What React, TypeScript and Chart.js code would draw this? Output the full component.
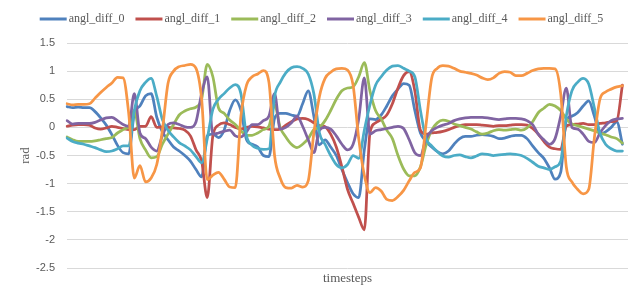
import React, { useEffect, useRef } from 'react';
import { Chart, registerables } from 'chart.js';

Chart.register(...registerables);

const seriesNames = ['angl_diff_0', 'angl_diff_1', 'angl_diff_2', 'angl_diff_3', 'angl_diff_4', 'angl_diff_5'];
const seriesColors = ['#4F81BD', '#C0504D', '#9BBB59', '#8064A2', '#4BACC6', '#F79646'];
const timesteps = Array.from({ length: 101 }, (_, i) => String(i));
const yTicks = [-2.5, -2, -1.5, -1, -0.5, 0, 0.5, 1, 1.5];

const angl_diff_0 = [
  0.37, 0.35, 0.36, 0.35, 0.35, 0.28, 0.17, 0.04, -0.13, -0.32,
  -0.45, -0.47, 0.25, 0.38, 0.56, 0.6, 0.18, -0.08, -0.22, -0.35,
  -0.42, -0.5, -0.6, -0.75, -0.88, -0.15, -0.12, -0.18, -0.05, 0.3,
  0.49, 0.3, -0.22, -0.3, -0.35, -0.5, -0.52, 0.16, 0.25, 0.25,
  0.22, 0.2, 0.42, 0.65, 0.2, -0.31, -0.22, -0.35, -0.5, -0.75,
  -0.98, -1.18, -1.25, -0.4, 0.15, 0.14, 0.22, 0.38, 0.56, 0.68,
  0.78, 0.75, 0.3, -0.1, -0.25, -0.35, -0.43, -0.47, -0.42, -0.3,
  -0.2, -0.16, -0.16, -0.14, -0.13, -0.14, -0.16, -0.2, -0.19, -0.16,
  -0.14, -0.14, -0.2, -0.33, -0.45, -0.55, -0.72, -0.92, -0.8, 0.12,
  0.2, 0.26, 0.38, 0.47, 0.2, -0.12, -0.08, 0.0, 0.1, -0.3,
];
const angl_diff_1 = [
  0.02, 0.04, 0.05, 0.05, 0.04, -0.01, -0.03, -0.01, 0.02, 0.0,
  -0.02, -0.04, -0.04, 0.02, 0.02, 0.19, 0.0, 0.01, 0.0, -0.01,
  -0.02, -0.05, -0.15, -0.4, -0.6, -1.25, -0.15, 0.04, 0.08, 0.05,
  0.0, -0.03, 0.0, 0.02, 0.01, -0.01, -0.03, -0.04, -0.03, 0.04,
  0.1, 0.15, 0.16, 0.14, 0.08, 0.03, 0.01, -0.12, -0.35, -0.7,
  -1.1, -1.35, -1.6, -1.82, -0.1, 0.08, 0.14, 0.22, 0.42, 0.7,
  0.92, 0.99, 0.65, -0.05, -0.12, -0.1, -0.09, -0.07, -0.04, 0.0,
  0.03, 0.05, 0.05, 0.05, 0.04, 0.03, 0.02, 0.03, 0.03, 0.04,
  0.05, 0.05, 0.04, -0.02, -0.12, -0.25, -0.35, -0.38, -0.39, 0.02,
  0.05, 0.06, 0.07, 0.05, 0.05, 0.07, 0.08, 0.1, 0.12, 0.75,
];
const angl_diff_2 = [
  -0.17, -0.22, -0.25, -0.25, -0.25, -0.24, -0.22, -0.2, -0.18, -0.1,
  -0.04, 0.02, 0.3, -0.2, -0.4, -0.54, -0.52, -0.3, -0.12, 0.05,
  0.22, 0.29, 0.33, 0.36, 0.5, 1.12, 0.9, 0.35, 0.25, 0.13,
  0.05, -0.06, -0.14, -0.14, -0.1, -0.04, 0.02, 0.4, 0.0, -0.17,
  -0.3, -0.36, -0.3, -0.2, -0.04, 0.0, 0.12, 0.3, 0.5, 0.65,
  0.7, 0.72, 0.9, 1.15, 0.65, 0.3, 0.15, -0.05, -0.2, -0.5,
  -0.74, -0.86, -0.86, -0.7, -0.32, -0.05, 0.08, 0.13, 0.11, 0.06,
  0.03, 0.0, -0.03, -0.08, -0.12, -0.1, -0.06, -0.04, -0.05, -0.04,
  -0.03, -0.05, -0.01, 0.1, 0.26, 0.34, 0.41, 0.38, 0.3, 0.15,
  0.06, 0.03, 0.0, -0.03, -0.06, -0.1, -0.13, -0.17, -0.2, -0.28,
];
const angl_diff_3 = [
  0.12, 0.06, 0.07, 0.07, 0.07, 0.09, 0.13, 0.17, 0.18, 0.12,
  0.05, 0.02, 0.6, -0.1, -0.2, -0.35, -0.42, -0.15, 0.05, 0.08,
  0.05, 0.01, 0.0, 0.1, 0.6, 0.9, -0.12, -0.1, -0.07, -0.05,
  -0.15, -0.17, -0.08, 0.05, 0.05, 0.12, 0.2, 0.6, -0.03, 0.0,
  0.08, 0.2, 0.02, -0.22, -0.45, -0.05, 0.0, -0.03, -0.15, -0.3,
  -0.4, -0.3, 0.15, 0.88, -0.12, -0.06, -0.04, -0.02, 0.0, 0.02,
  -0.02, -0.22, -0.45, -0.5, -0.2, -0.06, 0.0, 0.04, 0.07, 0.12,
  0.15, 0.17, 0.18, 0.18, 0.18, 0.17, 0.15, 0.14, 0.15, 0.16,
  0.16, 0.15, 0.12, 0.05, -0.12, -0.22, -0.3, -0.2, 0.2, 0.7,
  0.0, -0.03, -0.12, -0.25, -0.27, -0.1, 0.03, 0.12, 0.15, 0.16,
];
const angl_diff_4 = [
  -0.19, -0.25, -0.28, -0.3, -0.33, -0.36, -0.4, -0.43, -0.42, -0.38,
  -0.33, -0.33, 0.3, 0.65, 0.8, 0.87, 0.55, 0.14, -0.05, -0.17,
  -0.27, -0.33, -0.4, -0.52, -0.63, -0.2, 0.32, 0.5, 0.6, 0.7,
  0.76, 0.6, -0.15, -0.32, -0.37, -0.39, -0.38, 0.55, 0.8, 0.97,
  1.06, 1.08, 1.05, 0.95, 0.6, -0.1, -0.3, -0.5, -0.66, -0.72,
  -0.66, -0.5, -0.55, -0.05, 0.4, 0.75, 0.9, 1.02, 1.09, 1.1,
  1.05, 1.0, 0.9, 0.3, -0.2, -0.33, -0.43, -0.51, -0.53, -0.5,
  -0.49, -0.52, -0.54, -0.51, -0.47, -0.48, -0.5, -0.49, -0.48, -0.47,
  -0.48, -0.5, -0.55, -0.62, -0.69, -0.72, -0.75, -0.7, -0.6, 0.2,
  0.65, 0.8, 0.87, 0.77, 0.35, -0.1, -0.3, -0.38, -0.42, -0.42,
];
const angl_diff_5 = [
  0.42, 0.4, 0.41, 0.41, 0.42, 0.52, 0.62, 0.71, 0.79, 0.89,
  0.88, 0.25, -0.9, -0.68, -0.97, -0.9, -0.66, -0.05, 0.78, 1.0,
  1.08, 1.1, 1.12, 1.05, 0.5, -0.93, -0.85, -0.8, -0.92, -1.06,
  -1.07, 0.2, 0.75, 0.9, 0.95, 1.01, 0.8, -0.5, -0.9, -1.07,
  -1.08, -1.03, -1.06, -0.95, -0.1, 0.55, 0.87, 0.98, 1.04, 1.05,
  1.02, 0.75, -0.2, -0.85, -1.16, -1.07, -1.13, -1.28, -1.3, -1.23,
  -1.12, -0.95, -0.8, -0.72, 0.05, 0.87, 1.05, 1.1, 1.09, 1.05,
  1.0, 0.98, 0.96, 0.93, 0.88, 0.85, 0.88, 0.96, 0.99, 0.98,
  0.92, 0.92, 0.96, 1.01, 1.04, 1.05, 1.05, 1.04, 0.6, -0.7,
  -0.97, -1.1, -1.18, -1.1, -0.19, 0.5, 0.63, 0.68, 0.72, 0.74,
];
const seriesValues = [angl_diff_0, angl_diff_1, angl_diff_2, angl_diff_3, angl_diff_4, angl_diff_5];

const TEXT_COLOR = '#595959';

const legendPlugin = {
  id: 'lineLegend',
  afterDraw(chart: any) {
    const ctx = chart.ctx as CanvasRenderingContext2D;
    const sets = chart.data.datasets;
    const lineW = 27;
    const gapText = 2;
    const gapItem = 11;
    ctx.save();
    ctx.font = '12px "Liberation Serif"';
    const widths = sets.map((d: any) => ctx.measureText(d.label).width);
    const total = widths.reduce((a: number, w: number) => a + lineW + gapText + w, 0) + gapItem * (sets.length - 1);
    let x = (chart.width - total) / 2;
    const y = 19;
    sets.forEach((d: any, i: number) => {
      ctx.strokeStyle = d.borderColor;
      ctx.lineWidth = 3;
      ctx.beginPath();
      ctx.moveTo(x, y);
      ctx.lineTo(x + lineW, y);
      ctx.stroke();
      ctx.fillStyle = TEXT_COLOR;
      ctx.textBaseline = 'middle';
      ctx.textAlign = 'left';
      ctx.fillText(d.label, x + lineW + gapText, y);
      x += lineW + gapText + widths[i] + gapItem;
    });
    ctx.restore();
  },
};

export default function App() {
  const ref = useRef<HTMLCanvasElement>(null);
  useEffect(() => {
    const chart = new Chart(ref.current as HTMLCanvasElement, {
      type: 'line',
      data: {
        labels: timesteps,
        datasets: seriesValues.map((vals, i) => ({
          label: seriesNames[i],
          data: vals,
          borderColor: seriesColors[i],
          backgroundColor: seriesColors[i],
          borderWidth: 2.75,
          pointRadius: 0,
          order: 5 - i,
          cubicInterpolationMode: 'monotone' as const,
          borderJoinStyle: 'round' as const,
          borderCapStyle: 'round' as const,
        })),
      },
      options: {
        responsive: false,
        animation: false,
        layout: { padding: { left: 10, right: 15, top: 43, bottom: 0 } },
        plugins: {
          legend: { display: false },
          tooltip: { enabled: false },
        },
        scales: {
          x: {
            type: 'category',
            ticks: { display: false },
            grid: { display: false, drawTicks: false },
            border: { display: false },
            title: {
              display: true,
              text: 'timesteps',
              color: TEXT_COLOR,
              font: { family: 'Liberation Serif', size: 13 },
              padding: { top: 0, bottom: 16 },
            },
            afterFit: (s: any) => {
              s.height = 34;
            },
          },
          y: {
            min: -2.5,
            max: 1.5,
            afterBuildTicks: (s: any) => {
              s.ticks = yTicks.map((v) => ({ value: v }));
            },
            ticks: {
              color: TEXT_COLOR,
              font: { family: 'Liberation Sans', size: 11 },
              padding: 12,
              callback: (v: any) => String(Math.round(Number(v) * 10) / 10),
            },
            grid: { color: '#D9D9D9', drawTicks: false, lineWidth: 1 },
            border: { display: false },
            title: {
              display: true,
              text: 'rad',
              color: TEXT_COLOR,
              font: { family: 'Liberation Serif', size: 13 },
              padding: { top: 8, bottom: 0 },
            },
            afterFit: (s: any) => {
              s.width = 57;
            },
          },
        },
      },
      plugins: [legendPlugin],
    });
    return () => chart.destroy();
  }, []);
  return (
    <div style={{ position: 'fixed', left: 0, top: 0, width: 643, height: 302, background: '#fff' }}>
      <canvas ref={ref} width={643} height={302} style={{ display: 'block', width: 643, height: 302 }} />
    </div>
  );
}
